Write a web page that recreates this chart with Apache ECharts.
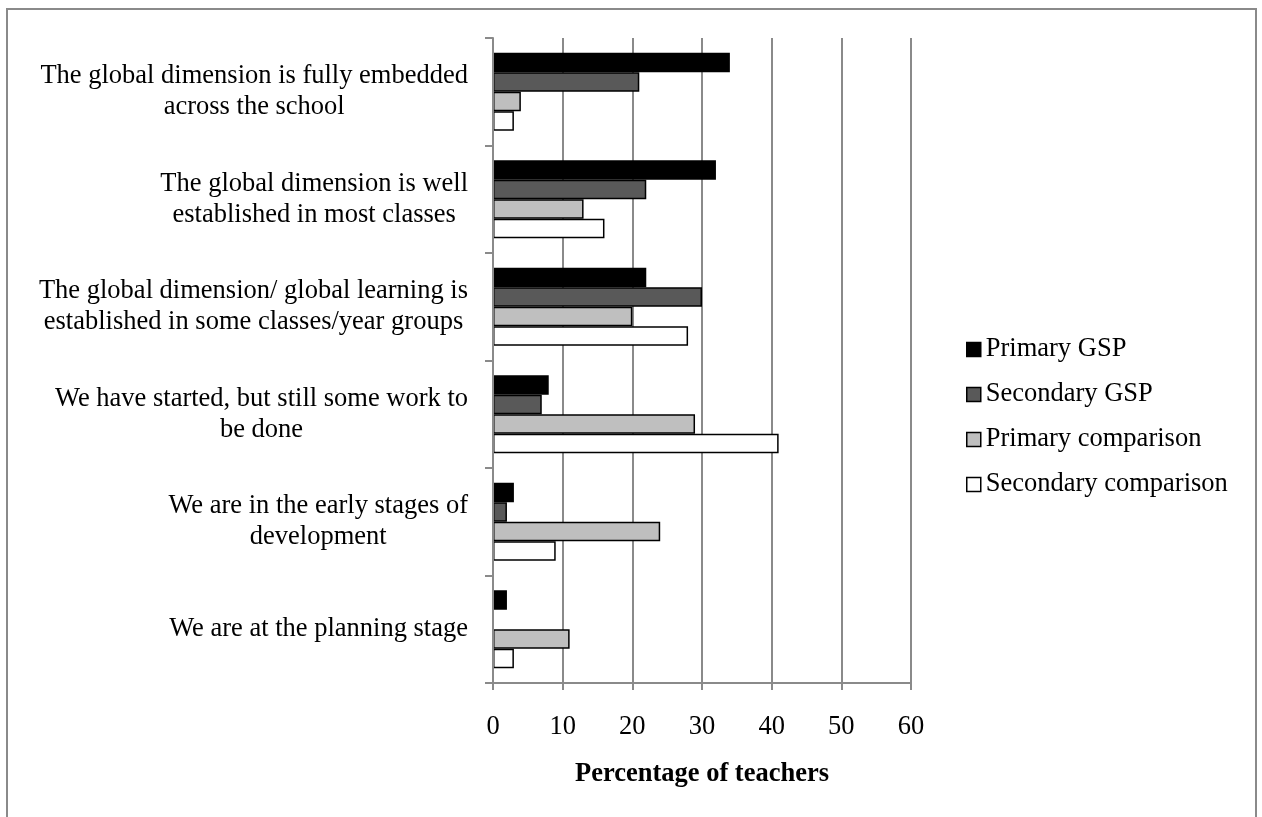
<!DOCTYPE html>
<html>
<head>
<meta charset="utf-8">
<script src="https://cdn.jsdelivr.net/npm/echarts@6/dist/echarts.min.js"></script>
<style>
  html, body { margin: 0; padding: 0; background: #fff; }
  #grafico { width: 1262px; height: 817px; }
</style>
</head>
<body>
<div id="grafico"></div>
<script>
// categorias (de arriba hacia abajo)
const categorias = [
  'The global dimension is fully embedded\nacross the school',
  'The global dimension is well\nestablished in most classes',
  'The global dimension/ global learning is\nestablished in some classes/year groups',
  'We have started, but still some work to\nbe done',
  'We are in the early stages of\ndevelopment',
  'We are at the planning stage'
]

const nombresSeries = ['Primary GSP', 'Secondary GSP', 'Primary comparison', 'Secondary comparison']
const coloresSeries = ['#000000', '#595959', '#bfbfbf', '#ffffff']

const primaryGSP = [34, 32, 22, 8, 3, 2]
const secondaryGSP = [21, 22, 30, 7, 2, 0]
const primaryComparison = [4, 13, 20, 29, 24, 11]
const secondaryComparison = [3, 16, 28, 41, 9, 3]

const ticksX = [0, 10, 20, 30, 40, 50, 60]

const valores = [primaryGSP, secondaryGSP, primaryComparison, secondaryComparison]

const miGrafico = echarts.init(document.getElementById('grafico'))

const fuente = '"Liberation Serif", "Times New Roman", serif'

const opciones = {
  animation: false,
  textStyle: { fontFamily: fuente },
  graphic: [
    {
      type: 'rect',
      shape: { x: 7, y: 9, width: 1249, height: 900 },
      style: { fill: 'none', stroke: '#8a8a8a', lineWidth: 2 },
      silent: true
    }
  ],
  legend: {
    orient: 'vertical',
    left: 961,
    top: 331,
    icon: 'rect',
    itemWidth: 14,
    itemHeight: 14,
    itemGap: 18,
    data: nombresSeries,
    textStyle: { fontFamily: fuente, fontSize: 26.5, lineHeight: 26, color: '#000' },
    itemStyle: { borderColor: '#000', borderWidth: 1.5 }
  },
  grid: {
    left: 493,
    right: 351,
    top: 38,
    bottom: 134,
    containLabel: false
  },
  xAxis: {
    type: 'value',
    min: ticksX[0],
    max: ticksX[ticksX.length - 1],
    interval: 10,
    name: 'Percentage of teachers',
    nameLocation: 'middle',
    nameGap: 78,
    nameTextStyle: { fontFamily: fuente, fontSize: 26.5, fontWeight: 'bold', color: '#000' },
    axisLine: { show: true, lineStyle: { color: '#8a8a8a', width: 2 } },
    axisTick: { show: true, length: 7, lineStyle: { color: '#8a8a8a', width: 2 } },
    axisLabel: { fontFamily: fuente, fontSize: 26.5, color: '#000', margin: 31 },
    splitLine: { show: true, lineStyle: { color: '#8a8a8a', width: 2 } }
  },
  yAxis: {
    type: 'category',
    inverse: true,
    data: categorias,
    axisLine: { show: true, lineStyle: { color: '#8a8a8a', width: 2 } },
    axisTick: { show: true, length: 8, lineStyle: { color: '#8a8a8a', width: 2 } },
    z: 3,
    axisLabel: {
      margin: 25,
      align: 'right',
      // cada línea centrada dentro del bloque, como en Excel
      formatter: valor => valor.split('\n').map(linea => `{c|${linea}}`).join('\n'),
      rich: {
        c: {
          align: 'center',
          fontFamily: fuente,
          fontSize: 26.5,
          lineHeight: 31,
          color: '#000'
        }
      }
    }
  },
  series: nombresSeries.map((nombre, i) => ({
    name: nombre,
    type: 'bar',
    // las barras en cero no dibujan borde
    data: valores[i].map(v => (v === 0 ? { value: v, itemStyle: { borderWidth: 0, opacity: 0 } } : v)),
    barWidth: 19.5,
    barGap: '0%',
    itemStyle: {
      color: coloresSeries[i],
      borderColor: '#000',
      borderWidth: 1.5
    }
  }))
}

miGrafico.setOption(opciones)
window.addEventListener('resize', () => miGrafico.resize())
</script>
</body>
</html>
